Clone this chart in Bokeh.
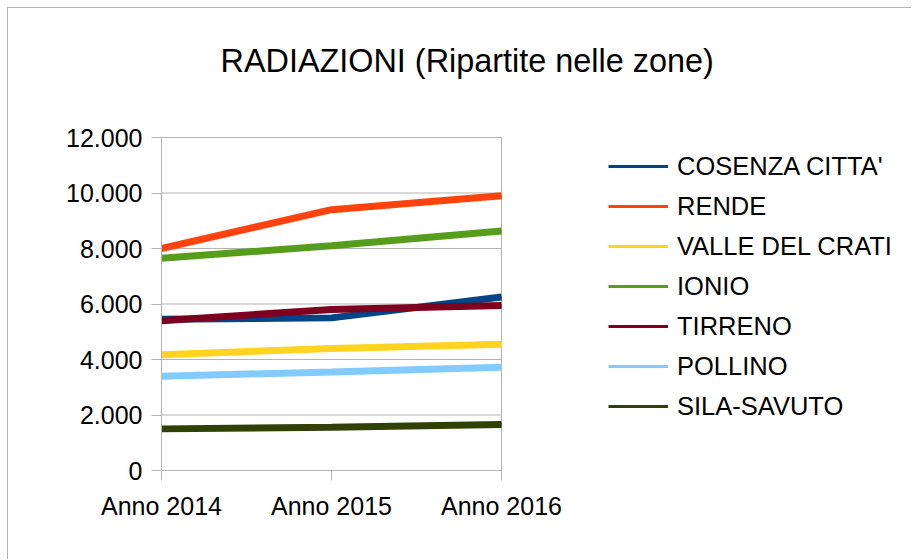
from bokeh.plotting import figure
from bokeh.models import Range1d, FixedTicker, Legend, LegendItem, Label
from bokeh.embed import file_html
from bokeh.resources import INLINE

years = ["Anno 2014", "Anno 2015", "Anno 2016"]
zones = ["COSENZA CITTA'", "RENDE", "VALLE DEL CRATI", "IONIO", "TIRRENO", "POLLINO", "SILA-SAVUTO"]
cosenza = [5450, 5500, 6250]
rende = [8000, 9400, 9900]
valle = [4170, 4400, 4550]
ionio = [7650, 8100, 8630]
tirreno = [5400, 5800, 5950]
pollino = [3400, 3550, 3720]
sila = [1500, 1560, 1660]
series = [cosenza, rende, valle, ionio, tirreno, pollino, sila]
colors = ["#004586", "#ff420e", "#ffd320", "#579d1c", "#7e0021", "#83caff", "#314004"]
y_ticks = [0, 2000, 4000, 6000, 8000, 10000, 12000]
y_labels = ["0", "2.000", "4.000", "6.000", "8.000", "10.000", "12.000"]
title_text = "RADIAZIONI (Ripartite nelle zone)"

FONT = "Liberation Sans"
GRID = "#b3b3b3"
x = list(range(len(years)))

# layout: plot area 161..501 px horizontally, 137..470 px vertically (page coords)
X_END = (len(years) - 1) * (912 - 161) / (501 - 161)
Y_END = y_ticks[-1] * (470 - 8) / (470 - 137)

p = figure(width=904, height=552, output_backend="svg", toolbar_location=None,
           x_range=Range1d(0, X_END), y_range=Range1d(0, Y_END),
           min_border_left=153, min_border_right=0, min_border_top=0, min_border_bottom=90)
p.styles = {"margin-left": "7px", "margin-top": "7px",
            "border-top": "1px solid #b3b3b3", "border-left": "1px solid #b3b3b3"}

p.outline_line_color = None
p.xgrid.visible = False
p.ygrid.visible = False

# horizontal grid lines and right edge of the plot area
p.segment(x0=[x[0]] * len(y_ticks), x1=[x[-1]] * len(y_ticks), y0=y_ticks, y1=y_ticks,
          line_color=GRID, line_width=1)
p.segment(x0=[x[-1]], x1=[x[-1]], y0=[y_ticks[0]], y1=[y_ticks[-1]], line_color=GRID, line_width=1)

for ax in (p.xaxis[0], p.yaxis[0]):
    ax.axis_line_color = GRID
    ax.major_tick_line_color = GRID
    ax.major_tick_out = 10
    ax.major_tick_in = 0
    ax.minor_tick_line_color = None
    ax.major_label_text_font = FONT
    ax.major_label_text_font_size = "25px"
    ax.major_label_text_color = "#000000"

p.xaxis.bounds = (x[0], x[-1])
p.xaxis.ticker = FixedTicker(ticks=x)
p.xaxis.major_label_overrides = {i: lab for i, lab in enumerate(years)}
p.xaxis.major_label_standoff = 11
p.yaxis.bounds = (y_ticks[0], y_ticks[-1])
p.yaxis.ticker = FixedTicker(ticks=y_ticks)
p.yaxis.major_label_overrides = {t: lab for t, lab in zip(y_ticks, y_labels)}
p.yaxis.major_label_standoff = 9

items = []
for name, vals, c in zip(zones, series, colors):
    thin = p.line(x, vals, line_color=c, line_width=3)
    p.line(x, vals, line_color=c, line_width=7)
    items.append(LegendItem(label=name, renderers=[thin]))

legend = Legend(items=items, location=(447, 44), padding=0, margin=0, spacing=0,
                glyph_width=60, glyph_height=40, label_height=40, label_standoff=9,
                label_text_font=FONT, label_text_font_size="25.5px", label_text_color="#000000",
                border_line_color=None, background_fill_alpha=0)
p.add_layout(legend, "center")

title = Label(x=59, y=410, x_units="screen", y_units="screen", text=title_text,
              text_font=FONT, text_font_size="32.4px", text_color="#000000",
              text_baseline="alphabetic", text_align="left")
p.add_layout(title)

open("out.html", "w").write(file_html(p, INLINE))
